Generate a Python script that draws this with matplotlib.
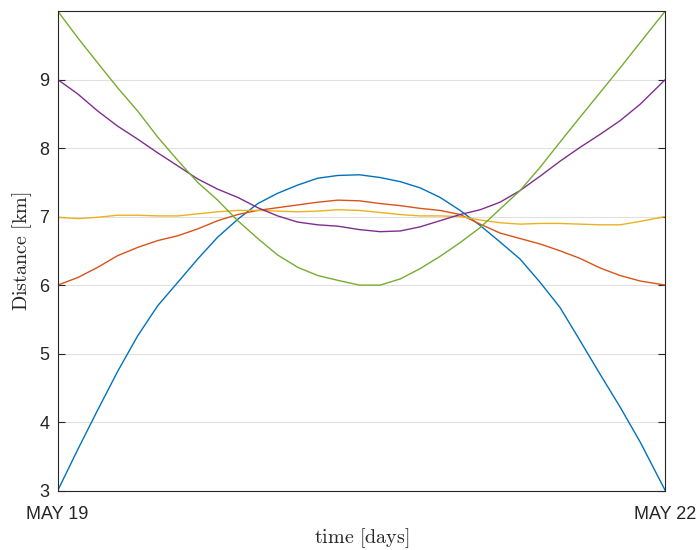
import matplotlib
matplotlib.use("Agg")
import matplotlib.pyplot as plt

plt.rcParams["font.family"] = ["Liberation Sans", "DejaVu Sans"]
plt.rcParams["mathtext.fontset"] = "cm"

# time in days since MAY 19 (shared by all series)
t_days = [0, 0.099, 0.198, 0.296, 0.395, 0.494, 0.593, 0.691, 0.790, 0.889,
          0.988, 1.086, 1.185, 1.284, 1.383, 1.49, 1.592, 1.691, 1.789, 1.888,
          1.987, 2.086, 2.184, 2.283, 2.382, 2.481, 2.579, 2.678, 2.777, 2.876, 3.0]

# distance [km]
d_blue = [3.0, 3.6, 4.18, 4.74, 5.26, 5.70, 6.04, 6.38, 6.70, 6.96,
          7.19, 7.34, 7.46, 7.56, 7.60, 7.61, 7.57, 7.51, 7.42, 7.28,
          7.09, 6.87, 6.63, 6.38, 6.04, 5.67, 5.19, 4.70, 4.22, 3.71, 3.0]
d_orange = [6.0, 6.11, 6.26, 6.43, 6.55, 6.65, 6.72, 6.82, 6.94, 7.03,
            7.09, 7.13, 7.17, 7.21, 7.24, 7.23, 7.19, 7.16, 7.12, 7.09,
            7.03, 6.89, 6.76, 6.68, 6.60, 6.50, 6.39, 6.25, 6.14, 6.06, 6.0]
d_yellow = [6.99, 6.97, 6.99, 7.02, 7.02, 7.01, 7.01, 7.04, 7.07, 7.09,
            7.09, 7.08, 7.07, 7.08, 7.10, 7.09, 7.06, 7.03, 7.01, 7.01,
            7.0, 6.95, 6.91, 6.89, 6.90, 6.90, 6.89, 6.88, 6.88, 6.93, 7.0]
d_purple = [9.0, 8.79, 8.54, 8.32, 8.13, 7.93, 7.74, 7.55, 7.40, 7.28,
            7.13, 7.01, 6.92, 6.88, 6.86, 6.81, 6.78, 6.79, 6.85, 6.94,
            7.03, 7.10, 7.21, 7.38, 7.59, 7.81, 8.01, 8.20, 8.40, 8.64, 9.0]
d_green = [10.0, 9.61, 9.24, 8.88, 8.54, 8.16, 7.82, 7.50, 7.24, 6.94,
           6.68, 6.44, 6.26, 6.14, 6.07, 6.0, 6.0, 6.09, 6.24, 6.42,
           6.62, 6.84, 7.11, 7.38, 7.72, 8.09, 8.45, 8.81, 9.17, 9.54, 10.0]

series = [
    (d_blue, (0, 0.447, 0.741)),
    (d_orange, (0.85, 0.325, 0.098)),
    (d_yellow, (0.929, 0.694, 0.125)),
    (d_purple, (0.494, 0.184, 0.556)),
    (d_green, (0.466, 0.674, 0.188)),
]

ax_col = (0.15, 0.15, 0.15)

fig = plt.figure(figsize=(6.99, 5.5), dpi=100)
ax = fig.add_axes([0.0825, 0.1078, 0.8693, 0.8722])

for d, c in series:
    ax.plot(t_days, d, color=c, lw=1.0)

ax.set_xlim(0, 3)
ax.set_ylim(3, 10)
ax.set_yticks([3, 4, 5, 6, 7, 8, 9])
ax.set_xticks([0, 3])
ax.set_xticklabels(["MAY 19", "MAY 22"])
ax.grid(axis="y", color=(0.88, 0.88, 0.88), lw=0.8)
ax.set_axisbelow(True)

ax.tick_params(axis="y", direction="in", length=5, left=True, right=True,
               labelsize=13, colors=ax_col, pad=6)
ax.tick_params(axis="x", direction="in", length=0, labelsize=13,
               colors=ax_col, pad=11)
for s in ax.spines.values():
    s.set_color(ax_col)
    s.set_linewidth(0.8)

ax.set_ylabel(r"$\mathrm{Distance\ [km]}$", fontsize=14.5, color=ax_col, labelpad=3.5)
ax.set_xlabel(r"$\mathrm{time\ [days]}$", fontsize=14.5, color=ax_col, labelpad=2)

fig.savefig("out.png", dpi=100)
